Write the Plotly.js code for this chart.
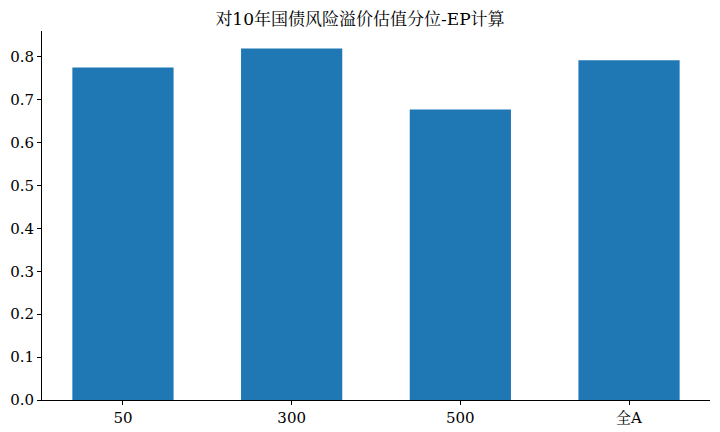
<!DOCTYPE html>
<html><head><meta charset="utf-8">
<script src="https://cdn.plot.ly/plotly-3.0.1.min.js"></script>
<style>body{margin:0;padding:0;background:#fff}#chart{width:720px;height:432px}</style>
</head><body><div id="chart"></div>
<script>
const categories = ["50", "300", "500", "全A"];
const values = [0.775, 0.819, 0.677, 0.792];
const yTicks = [0, 0.1, 0.2, 0.3, 0.4, 0.5, 0.6, 0.7, 0.8];
const yTickText = ["0.0","0.1","0.2","0.3","0.4","0.5","0.6","0.7","0.8"];
const titleText = "对10年国债风险溢价估值分位-EP计算";
const FONT = '"DejaVu Serif", "Noto Serif CJK SC", "Noto Sans CJK SC", serif';

Plotly.newPlot("chart", [{
  type: "bar",
  x: categories.map((c, i) => i),
  y: values,
  width: 0.6,
  marker: {color: "#1f77b4"},
  hoverinfo: "skip"
}], {
  width: 720, height: 432,
  margin: {l: 42, r: 10, t: 31, b: 32},
  paper_bgcolor: "#fff", plot_bgcolor: "#fff",
  font: {family: FONT, size: 15, color: "#000"},
  title: {text: titleText, font: {family: FONT, size: 17, color: "#000"}, x: 0.5, xanchor: "center", y: 0.955, yanchor: "middle"},
  showlegend: false,
  xaxis: {
    range: [-0.48, 3.48], tickmode: "array", tickvals: [0,1,2,3], ticktext: categories,
    showline: true, linecolor: "#000", linewidth: 1, ticks: "outside", ticklen: 4, tickcolor: "#000",
    showgrid: false, zeroline: false, tickfont: {family: FONT, size: 15, color: "#000"}
  },
  yaxis: {
    range: [0, 0.86], tickmode: "array", tickvals: yTicks, ticktext: yTickText,
    showline: true, linecolor: "#000", linewidth: 1, ticks: "outside", ticklen: 4, tickcolor: "#000",
    showgrid: false, zeroline: false, tickfont: {family: FONT, size: 15, color: "#000"}
  }
}, {displayModeBar: false, staticPlot: true});
</script></body></html>
